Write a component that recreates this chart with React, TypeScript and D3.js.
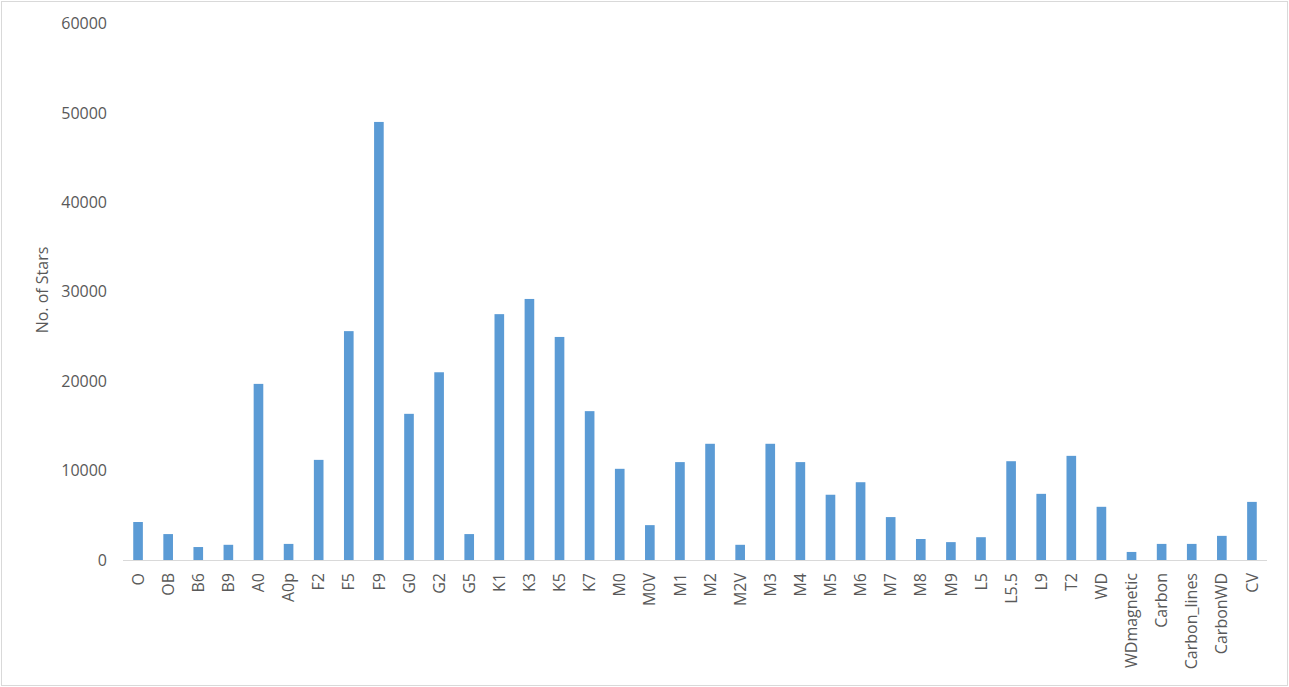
import React from 'react';
import * as d3 from 'd3';

const categories = [
  'O', 'OB', 'B6', 'B9', 'A0', 'A0p', 'F2', 'F5', 'F9', 'G0', 'G2', 'G5', 'K1', 'K3', 'K5', 'K7',
  'M0', 'M0V', 'M1', 'M2', 'M2V', 'M3', 'M4', 'M5', 'M6', 'M7', 'M8', 'M9', 'L5', 'L5.5', 'L9',
  'T2', 'WD', 'WDmagnetic', 'Carbon', 'Carbon_lines', 'CarbonWD', 'CV',
];
const stars = [
  4250, 2900, 1450, 1700, 19700, 1800, 11200, 25600, 49000, 16350, 21000, 2900, 27500, 29200, 24950, 16650,
  10200, 3900, 10950, 13000, 1700, 13000, 10950, 7300, 8700, 4800, 2350, 2000, 2550, 11050, 7400,
  11650, 5950, 900, 1800, 1800, 2700, 6500,
];
const yTicks = [0, 10000, 20000, 30000, 40000, 50000, 60000];

const W = 1289;
const H = 687;
const margin = { top: 23.6, right: 22, bottom: 127, left: 123 };
const font = '"Open Sans", "Liberation Sans", sans-serif';
const textColor = '#595959';

export default function App() {
  const innerWidth = W - margin.left - margin.right;
  const innerHeight = H - margin.top - margin.bottom;

  const xScale = d3.scaleBand()
    .domain(categories)
    .range([0, innerWidth])
    .paddingInner(0.68)
    .paddingOuter(0.34);

  const yScale = d3.scaleLinear()
    .domain([0, 60000])
    .range([innerHeight, 0]);

  return (
    <svg width={W} height={H} style={{ position: 'absolute', left: 0, top: 0, background: '#fff' }}>
      <rect x={1.5} y={1.5} width={W - 3} height={H - 3} fill="#fff" stroke="#D9D9D9" />
      <g transform={`translate(${margin.left}, ${margin.top})`}>
        {
          yTicks.map((t) => (
            <text
              key={t}
              x={-16}
              y={yScale(t)}
              dy="0.35em"
              textAnchor="end"
              fontFamily={font}
              fontSize={16}
              fill={textColor}
            >
              {t}
            </text>
          ))
        }
        <g>
          {
            categories.map((c, i) => (
              <rect
                key={c}
                x={xScale(c)}
                y={yScale(stars[i])}
                width={xScale.bandwidth()}
                height={innerHeight - yScale(stars[i])}
                fill="#5B9BD5"
              />
            ))
          }
        </g>
        <line x1={0} x2={innerWidth} y1={innerHeight + 0.5} y2={innerHeight + 0.5} stroke="#D9D9D9" />
        {
          categories.map((c) => {
            const cx = (xScale(c) || 0) + xScale.bandwidth() / 2;
            return (
              <text
                key={c}
                transform={`translate(${cx}, ${innerHeight + 13}) rotate(-90)`}
                dy="0.35em"
                textAnchor="end"
                fontFamily={font}
                fontSize={16}
                fill={textColor}
              >
                {c}
              </text>
            );
          })
        }
      </g>
      <text
        transform="translate(42, 290) rotate(-90)"
        dy="0.35em"
        textAnchor="middle"
        fontFamily={font}
        fontSize={16}
        fill={textColor}
      >
        No. of Stars
      </text>
    </svg>
  );
}
